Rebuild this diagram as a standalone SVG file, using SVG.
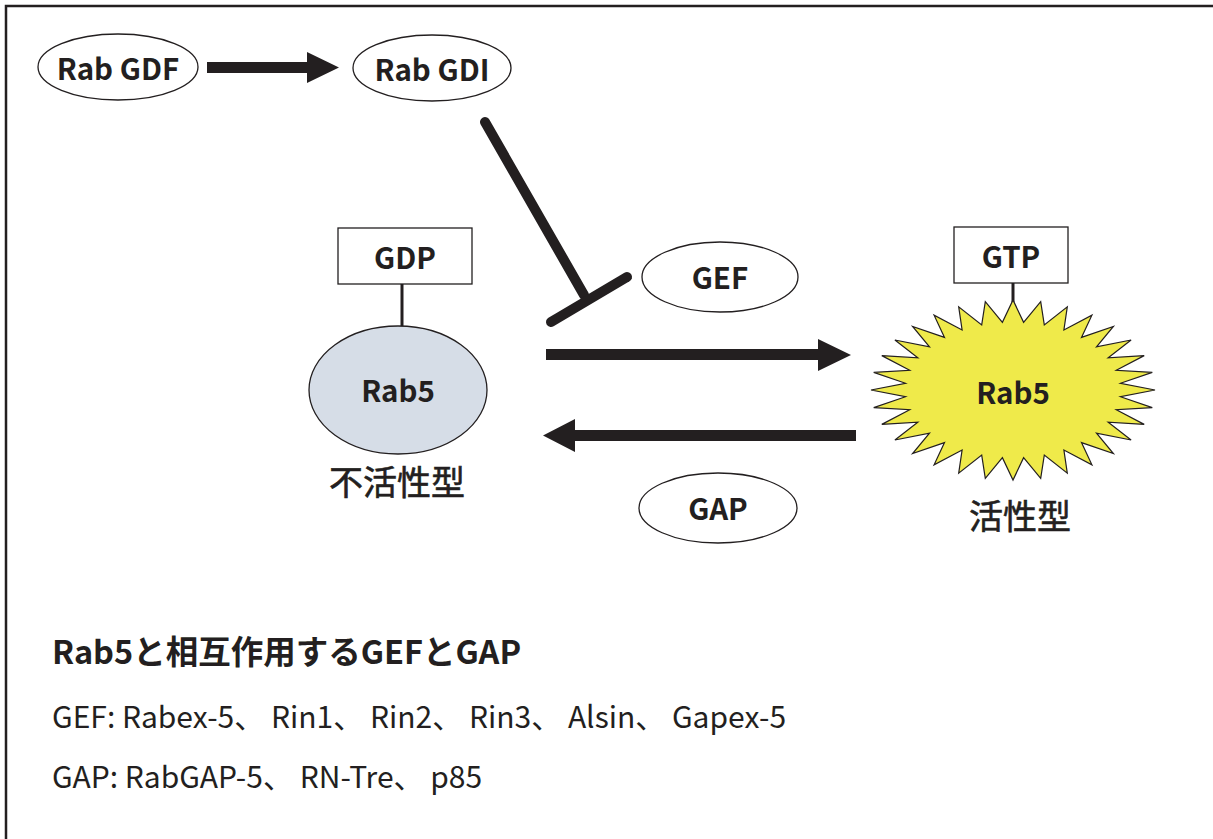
<svg xmlns="http://www.w3.org/2000/svg" width="1213" height="839" viewBox="0 0 1213 839">
<style>
.bg{fill:#fff}
.frame{fill:none;stroke:#231f20;stroke-width:2.5}
.oval{fill:#fff;stroke:#231f20;stroke-width:1.3}
.box{fill:#fff;stroke:#231f20;stroke-width:1.3}
.t{font-family:"Noto Sans CJK JP","Noto Sans",sans-serif;fill:#231f20}
.lb{font-weight:bold;font-size:29.5px;text-anchor:middle;dominant-baseline:central}
.jp{font-size:34px;text-anchor:middle;stroke:#231f20;stroke-width:0.6}
.thick{fill:#231f20;stroke:none}
.stick{stroke:#231f20;stroke-width:3;fill:none}
.inh{stroke:#231f20;stroke-width:10;stroke-linecap:round;fill:none}
</style>
<rect class="bg" x="0" y="0" width="1213" height="839"/>
<path class="frame" d="M6,839 V6 H1213"/>

<g id="connectors">
  <polygon class="thick" points="207,62 307,62 307,52 339,67.5 307,83 307,73 207,73"/>
  <line class="inh" x1="485" y1="122" x2="584" y2="295"/>
  <line class="inh" x1="551" y1="322" x2="627" y2="277"/>
  <polygon class="thick" points="546,349 818,349 818,339 851,355 818,371 818,360 546,360"/>
  <polygon class="thick" points="856,430 575,430 575,419 543,435.5 575,452 575,441 856,441"/>
  <line class="stick" x1="402" y1="284" x2="402" y2="327"/>
  <line class="stick" x1="1013" y1="283" x2="1013" y2="302"/>
</g>

<g id="rab-gdf">
  <ellipse class="oval" cx="118" cy="67" rx="80" ry="33"/>
  <text class="t lb" x="118" y="67">Rab GDF</text>
</g>
<g id="rab-gdi">
  <ellipse class="oval" cx="432" cy="68" rx="79" ry="33"/>
  <text class="t lb" x="432" y="68">Rab GDI</text>
</g>
<g id="gef">
  <ellipse class="oval" cx="720" cy="277" rx="78" ry="35"/>
  <text class="t lb" x="720" y="276">GEF</text>
</g>
<g id="gap">
  <ellipse class="oval" cx="718" cy="508" rx="79" ry="35"/>
  <text class="t lb" x="718" y="507">GAP</text>
</g>
<g id="gdp">
  <rect class="box" x="338" y="228" width="134" height="56"/>
  <text class="t lb" x="405" y="256">GDP</text>
</g>
<g id="rab5-inactive">
  <ellipse cx="398" cy="390" rx="89" ry="64" fill="#d6dde7" stroke="#231f20" stroke-width="1.3"/>
  <text class="t lb" x="398" y="389">Rab5</text>
  <text class="t jp" x="397" y="495">不活性型</text>
</g>
<g id="gtp">
  <rect class="box" x="954" y="227" width="114" height="56"/>
  <text class="t lb" x="1011" y="255">GTP</text>
</g>
<g id="rab5-active">
  <polygon fill="#efea4a" stroke="#231f20" stroke-width="1.2" points="1155,390 1120.5,383.3 1152.3,372.4 1116.3,370.3 1144.2,355.6 1108.2,357.9 1131.1,340 1096.5,346.9 1113.4,326.4 1081.5,337.4 1091.9,315.2 1063.9,330 1067.3,306.9 1044.3,324.9 1040.7,301.7 1023.6,322.3 1013,300 1002.4,322.3 985.3,301.7 981.7,324.9 958.7,306.9 962.1,330 934.1,315.2 944.5,337.4 912.6,326.4 929.5,346.9 894.9,340 917.8,357.9 881.8,355.6 909.7,370.3 873.7,372.4 905.5,383.3 871,390 905.5,396.7 873.7,407.6 909.7,409.7 881.8,424.4 917.8,422.1 894.9,440 929.5,433.1 912.6,453.6 944.5,442.6 934.1,464.8 962.1,450 958.7,473.1 981.7,455.1 985.3,478.3 1002.4,457.7 1013,480 1023.6,457.7 1040.7,478.3 1044.3,455.1 1067.3,473.1 1063.9,450 1091.9,464.8 1081.5,442.6 1113.4,453.6 1096.5,433.1 1131.1,440 1108.2,422.1 1144.2,424.4 1116.3,409.7 1152.3,407.6 1120.5,396.7"/>
  <text class="t lb" x="1013" y="391">Rab5</text>
  <text class="t jp" x="1020" y="529">活性型</text>
</g>

<g id="notes">
  <text class="t" x="52" y="664" font-size="32.5" font-weight="bold">Rab5と相互作用するGEFとGAP</text>
  <text class="t" x="52" y="728" font-size="30">GEF: Rabex-5、 Rin1、 Rin2、 Rin3、 Alsin、 Gapex-5</text>
  <text class="t" x="52" y="788" font-size="30">GAP: RabGAP-5、 RN-Tre、 p85</text>
</g>
</svg>
